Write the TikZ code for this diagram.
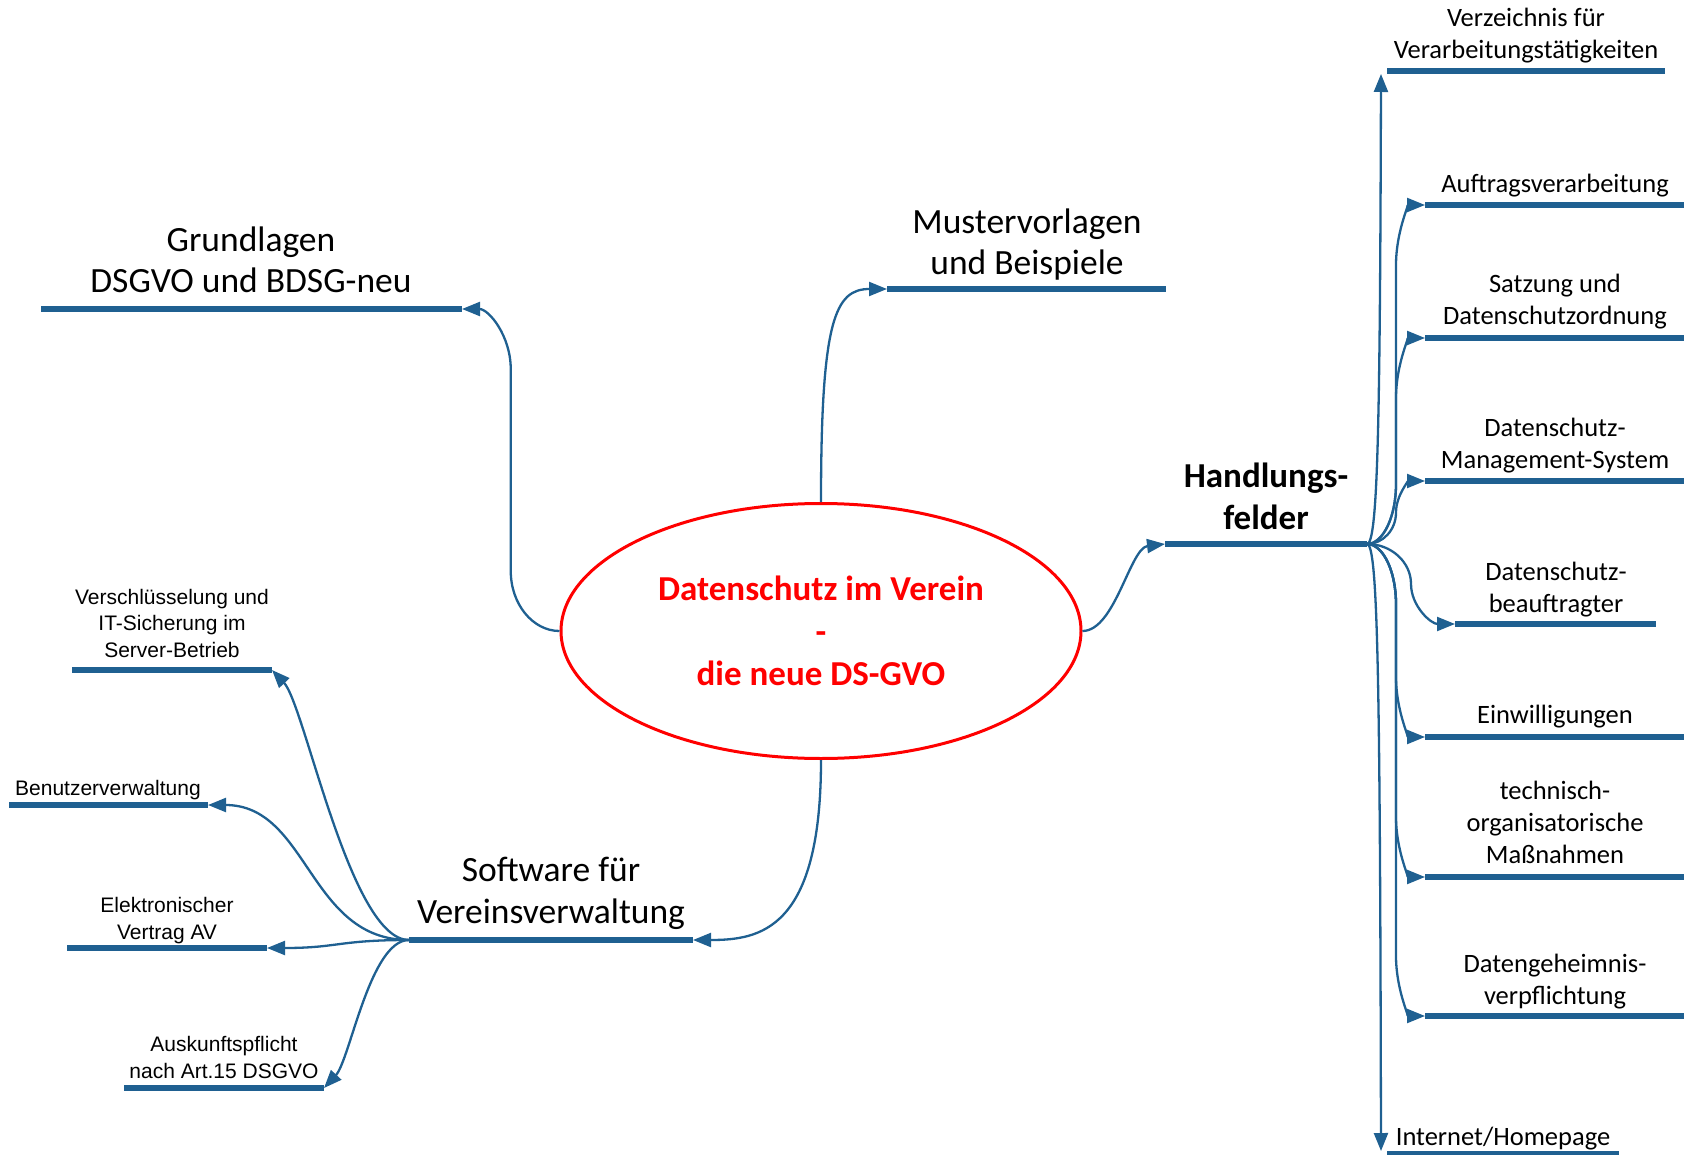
\documentclass[tikz,border=0pt]{standalone}
\usepackage{fontspec}
\setmainfont{Carlito}
\newfontfamily\smallsans{Liberation Sans}
\usetikzlibrary{shapes.geometric,arrows.meta,calc}
\definecolor{mapblue}{RGB}{31,96,145}

\begin{document}
\begin{tikzpicture}[x=1pt, y=-1pt,
    every node/.style={inner sep=0pt, align=center, anchor=base},
    bar/.style={draw=mapblue, line width=6.5pt},
    branch/.style={draw=mapblue, line width=2.3pt, -{Triangle[length=18pt, width=14pt]}},
    % vertical trunk with rounded bends
    mind/.style={to path={let \p1=(\tikztostart), \p2=(\tikztotarget),
        \n1={(\x1+\x2)/2}, \n2={sign(\y2-\y1)*min(abs(\y2-\y1)/2,60)}, \n3={0.55*(\x2-\x1)/2} in
        .. controls ({\x1+(\n3)},\y1) and (\n1,{\y1+0.45*(\n2)}) .. (\n1,{\y1+(\n2)})
        -- (\n1,{\y2-(\n2)})
        .. controls (\n1,{\y2-0.45*(\n2)}) and ({\x2-(\n3)},\y2) .. (\tikztotarget) \tikztonodes}},
    swing/.style={to path={let \p1=(\tikztostart), \p2=(\tikztotarget) in
        .. controls ({(\x1+\x2)/2}, \y1) and ({(\x1+\x2)/2}, \y2) .. (\tikztotarget) \tikztonodes}},
    topic/.style={font=\fontsize{35.5}{41.5}\selectfont},
    leaf/.style={font=\fontsize{26.5}{32}\selectfont},
    small/.style={font=\smallsans\fontsize{21}{26.5}\selectfont}]

    \useasboundingbox (0,0) rectangle (1692,1155);

    % centre
    \node[ellipse, draw=red, line width=3pt, minimum width=520pt, minimum height=255pt, anchor=center,
          text=red, font=\fontsize{35}{42.5}\selectfont\bfseries] (dsv) at (821,631)
        {Datenschutz im Verein\\-\\die neue DS-GVO};

    % main branches
    \draw[bar] (41,309) -- (462,309) coordinate (grundlagen);
    \node[topic] at (251,293) {Grundlagen\\DSGVO und BDSG-neu};
    \draw[bar] (887,289) coordinate (muster) -- (1166,289);
    \node[topic] at (1027,275) {Mustervorlagen\\und Beispiele};
    \draw[bar] (1165,544) coordinate (handlung) -- (1367,544) coordinate (hubR);
    \node[topic, font=\fontsize{35}{42}\selectfont\bfseries] at (1266,529) {Handlungs-\\felder};
    \draw[bar] (409,940) coordinate (hubL) -- (693,940) coordinate (software);
    \node[topic] at (551,923) {Software für\\Vereinsverwaltung};

    \draw[branch] (dsv.west) to[mind] (grundlagen);
    \draw[branch] (dsv.east) .. controls (1115,631) and (1130,548) .. (handlung);
    \draw[branch] (dsv.north) .. controls (821,320) and (835,289) .. (muster);
    \draw[branch] (dsv.south) .. controls (821,930) and (760,940) .. (software);

    % Handlungsfelder
    \draw[bar] (1387,71) -- (1665,71);
    \coordinate (verzeichnis) at (1381,74);
    \node[leaf] at (1526,59) {Verzeichnis für\\Verarbeitungstätigkeiten};
    \draw[bar] (1425,205) coordinate (auftrag) -- (1684,205);
    \node[leaf] at (1555,193) {Auftragsverarbeitung};
    \draw[bar] (1425,338) coordinate (satzung) -- (1684,338);
    \node[leaf] at (1555,325) {Satzung und\\Datenschutzordnung};
    \draw[bar] (1425,481) coordinate (dsms) -- (1684,481);
    \node[leaf] at (1555,468) {Datenschutz-\\Management-System};
    \draw[bar] (1455,624) coordinate (dsb) -- (1656,624);
    \node[leaf] at (1556,612) {Datenschutz-\\beauftragter};
    \draw[bar] (1425,737) coordinate (einw) -- (1684,737);
    \node[leaf] at (1555,723) {Einwilligungen};
    \draw[bar] (1425,877) coordinate (tom) -- (1684,877);
    \node[leaf] at (1555,863) {technisch-\\organisatorische\\Maßnahmen};
    \draw[bar] (1425,1016) coordinate (geheim) -- (1684,1016);
    \node[leaf] at (1555,1004) {Datengeheimnis-\\verpflichtung};
    \draw[bar] (1387,1154) -- (1619,1154);
    \coordinate (internet) at (1381,1151);
    \node[leaf] at (1503,1145) {Internet/Homepage};

    \draw[branch] (hubR) .. controls (1378,544) and (1380,420) .. (verzeichnis);
    \draw[branch] (hubR) .. controls (1378,544) and (1380,680) .. (internet);
    \foreach \t in {auftrag, satzung, dsms, dsb, einw, tom, geheim}
        \draw[branch] (hubR) to[mind] (\t);

    % Software
    \draw[bar] (72,670) -- (272,670) coordinate (sicher);
    \node[small] at (172,657) {Verschlüsselung und\\IT-Sicherung im\\Server-Betrieb};
    \draw[bar] (9,805) -- (208,805) coordinate (benutzer);
    \node[small] at (108,795) {Benutzerverwaltung};
    \draw[bar] (67,948) -- (267,948) coordinate (vertrag);
    \node[small] at (167,939) {Elektronischer\\Vertrag AV};
    \draw[bar] (124,1088) -- (324,1088) coordinate (auskunft);
    \node[small] at (224,1078) {Auskunftspflicht\\nach Art.15 DSGVO};

    \draw[branch] (hubL) .. controls (350,940) and (305,705) .. (sicher);
    \draw[branch] (hubL) to[swing] (benutzer);
    \draw[branch] (hubL) to[swing] (vertrag);
    \draw[branch] (hubL) .. controls (370,940) and (350,1060) .. (auskunft);

\end{tikzpicture}
\end{document}
